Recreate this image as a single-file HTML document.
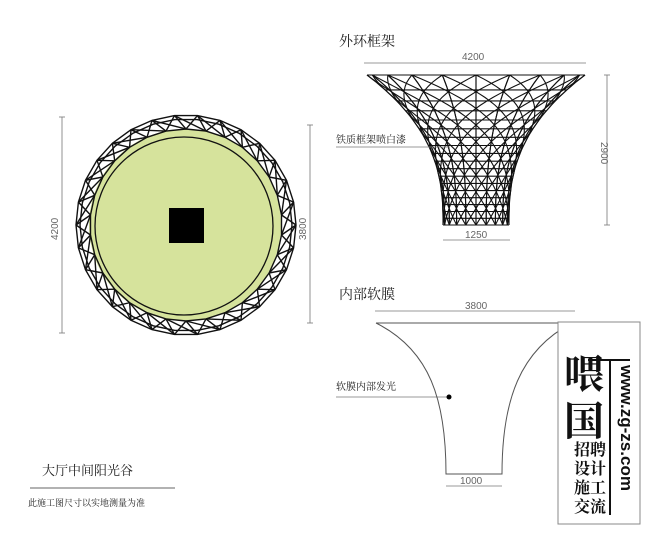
<!DOCTYPE html>
<html><head><meta charset="utf-8"><style>
html,body{margin:0;padding:0;background:#fff}
body{width:667px;height:533px;overflow:hidden;position:relative;font-family:"Liberation Serif","Noto Serif CJK SC",serif}
svg{position:absolute;left:0;top:0}
</style></head><body>
<svg id="s" width="667" height="533" viewBox="0 0 667 533" xmlns="http://www.w3.org/2000/svg">
<g id="ring" stroke="#111" stroke-width="1.4" fill="none"></g>
<g id="frame" stroke="#111" stroke-width="1.1" fill="none"></g>
<g stroke="#777" stroke-width="0.8" fill="none">
<line x1="62" y1="117" x2="62" y2="333"/><line x1="59" y1="117" x2="65" y2="117"/><line x1="59" y1="333" x2="65" y2="333"/>
<line x1="310" y1="125" x2="310" y2="323"/><line x1="307" y1="125" x2="313" y2="125"/><line x1="307" y1="323" x2="313" y2="323"/>
<line x1="364" y1="63" x2="586" y2="63"/>
<line x1="607" y1="75" x2="607" y2="225"/><line x1="604" y1="75" x2="610" y2="75"/><line x1="604" y1="225" x2="610" y2="225"/>
<line x1="443" y1="240" x2="510" y2="240"/>
<line x1="375" y1="311" x2="575" y2="311"/>
<line x1="446" y1="486" x2="502" y2="486"/>
<line x1="336" y1="147" x2="450" y2="147"/>
<line x1="336" y1="397" x2="449" y2="397"/>
<line x1="30" y1="488" x2="175" y2="488" stroke="#999" stroke-width="1.5"/>
</g>
<g stroke="#555" stroke-width="1" fill="none">
<path d="M376 323 L572 323"/>
<path d="M376 323 C430 350 446 400 446 474 L502 474 C502 400 520 350 572 323"/>
</g>
<circle cx="449" cy="397" r="2.5" fill="#000"/>
<g fill="#666" font-family="'Liberation Sans',sans-serif" font-size="10">
<text x="462" y="60">4200</text>
<text x="465" y="238">1250</text>
<text x="465" y="309">3800</text>
<text x="460" y="484">1000</text>
<text transform="translate(601,142) rotate(90)">2900</text>
<text transform="translate(58,240) rotate(-90)">4200</text>
<text transform="translate(306,240) rotate(-90)">3800</text>
</g>
<g fill="#222">
<text x="339" y="46" font-size="14">外环框架</text>
<text x="339" y="299" font-size="14">内部软膜</text>
<text x="336" y="143" font-size="10">铁质框架喷白漆</text>
<text x="336" y="390" font-size="10">软膜内部发光</text>
<text x="42" y="475" font-size="13">大厅中间阳光谷</text>
<text x="28" y="506" font-size="9">此施工图尺寸以实地测量为准</text>
</g>
<g>
<rect x="558" y="322" width="82" height="202" fill="#fff" stroke="#888" stroke-width="1"/>
<text x="564" y="388" font-size="40" font-weight="bold" fill="#111">喂</text>
<text x="564" y="435" font-size="40" font-weight="bold" fill="#111">国</text>
<line x1="588" y1="360" x2="630" y2="360" stroke="#111" stroke-width="2"/>
<line x1="610" y1="360" x2="610" y2="515" stroke="#111" stroke-width="2"/>
<text x="574" y="455" font-size="16" font-weight="bold" fill="#111">招聘</text>
<text x="574" y="474" font-size="16" font-weight="bold" fill="#111">设计</text>
<text x="574" y="493" font-size="16" font-weight="bold" fill="#111">施工</text>
<text x="574" y="512" font-size="16" font-weight="bold" fill="#111">交流</text>
<text transform="translate(621,365) rotate(90)" font-family="'Liberation Sans',sans-serif" font-size="17" font-weight="bold" fill="#111">www.zg-zs.com</text>
</g>
</svg>
<script>
var NS="http://www.w3.org/2000/svg";
function L(g,x1,y1,x2,y2){var l=document.createElementNS(NS,"line");l.setAttribute("x1",x1.toFixed(1));l.setAttribute("y1",y1.toFixed(1));l.setAttribute("x2",x2.toFixed(1));l.setAttribute("y2",y2.toFixed(1));g.appendChild(l);}
function P(g,pts){var p=document.createElementNS(NS,"polyline");p.setAttribute("points",pts.map(function(a){return a[0].toFixed(1)+","+a[1].toFixed(1)}).join(" "));g.appendChild(p);}
var svg=document.getElementById("s");
var c=document.createElementNS(NS,"circle");c.setAttribute("cx",185);c.setAttribute("cy",225);c.setAttribute("r",96);c.setAttribute("fill","#d6e39c");svg.insertBefore(c,svg.firstChild);
var c2=document.createElementNS(NS,"circle");c2.setAttribute("cx",184);c2.setAttribute("cy",226);c2.setAttribute("r",89);c2.setAttribute("fill","none");c2.setAttribute("stroke","#111");c2.setAttribute("stroke-width","1.3");svg.appendChild(c2);
var r=document.createElementNS(NS,"rect");r.setAttribute("x",169);r.setAttribute("y",208);r.setAttribute("width",35);r.setAttribute("height",35);r.setAttribute("fill","#000");svg.appendChild(r);
var g=document.getElementById("ring");var cx=186,cy=225,R1=110,R2=96,N=30;
var o=[],i=[],o2=[];for(var k=0;k<=N;k++){var a=k*2*Math.PI/N;o.push([cx+R1*Math.cos(a),cy+R1*Math.sin(a)]);var b=a+Math.PI/N;i.push([cx+R2*Math.cos(b),cy+R2*Math.sin(b)]);o2.push([cx+(R1-4)*Math.cos(a),cy+(R1-4)*Math.sin(a)]);}
P(g,o);P(g,i);P(g,o2);
for(var k=0;k<N;k++){L(g,o[k][0],o[k][1],i[k][0],i[k][1]);L(g,i[k][0],i[k][1],o[k+1][0],o[k+1][1]);L(g,o[k][0],o[k][1],i[(k+1)%N][0],i[(k+1)%N][1]);}
var f=document.getElementById("frame");var fx=476,yt=75,yb=225;
function w(y){var t=(y-yt)/(yb-yt);return 33+76*Math.pow(1-t,2.6);}
var M=20;
for(var k=0;k<M;k++){var pts=[],pts2=[];for(var s=0;s<=40;s++){var y=yt+(yb-yt)*s/40;var ww=w(y);var th=k*2*Math.PI/M;pts.push([fx+ww*Math.sin(th),y]);var th2=th+(s/40)*Math.PI*0.9;pts2.push([fx+ww*Math.sin(th2),y]);}P(f,pts);P(f,pts2);}
for(var s=0;s<=18;s++){var y=yt+(yb-yt)*Math.pow(s/18,0.8);var ww=w(y);L(f,fx-ww,y,fx+ww,y);}
</script>
</body></html>
